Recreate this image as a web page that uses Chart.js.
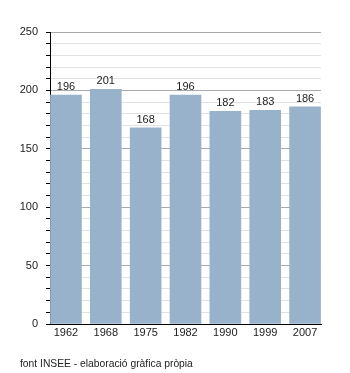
<!DOCTYPE html>
<html><head><meta charset="utf-8">
<script src="https://cdn.jsdelivr.net/npm/chart.js@4/dist/chart.umd.min.js"></script>
<style>html,body{margin:0;padding:0;background:#fff;}#w{width:350px;height:373px;}</style>
</head><body><div id="w"><canvas id="c"></canvas></div>
<script>
const categories = ["1962","1968","1975","1982","1990","1999","2007"];
const values = [196, 201, 168, 196, 182, 183, 186];
const yTickLabels = [0, 50, 100, 150, 200, 250];
const footer = "font INSEE - elaboració gràfica pròpia";

const FONT = "'Liberation Sans', Arial, sans-serif";

const valueLabels = {
  id: 'valueLabels',
  afterDatasetsDraw(chart) {
    const ctx = chart.ctx;
    const meta = chart.getDatasetMeta(0);
    ctx.save();
    ctx.font = "11px " + FONT;
    ctx.fillStyle = "#222";
    ctx.textAlign = "center";
    ctx.textBaseline = "alphabetic";
    meta.data.forEach((bar, i) => {
      ctx.fillText(String(values[i]), bar.x, bar.y - 5);
    });
    ctx.restore();
  }
};
const footerText = {
  id: 'footerText',
  afterDraw(chart) {
    const ctx = chart.ctx;
    ctx.save();
    ctx.font = "10.3px " + FONT;
    ctx.fillStyle = "#222";
    ctx.textAlign = "left";
    ctx.textBaseline = "alphabetic";
    ctx.fillText(footer, 20, 367);
    ctx.restore();
  }
};

new Chart(document.getElementById('c'), {
  type: 'bar',
  data: {
    datasets: [{
      data: values.map((v, i) => ({x: i, y: v})),
      backgroundColor: '#98b2cb',
      borderWidth: 0,
      barThickness: 31
    }]
  },
  options: {
    responsive: true,
    maintainAspectRatio: false,
    animation: false,
    layout: { padding: { top: 32, right: 29, left: 0, bottom: 0 } },
    plugins: { legend: { display: false }, tooltip: { enabled: false } },
    scales: {
      x: {
        type: 'linear',
        offset: false,
        min: -0.4, max: 6.4,
        afterBuildTicks(scale) { scale.ticks = categories.map((c, i) => ({value: i})); },
        afterFit(scale) { scale.height = 49; },
        ticks: {
          autoSkip: false,
          maxRotation: 0,
          padding: 2,
          color: '#222',
          font: { family: FONT, size: 11 },
          callback: (v) => categories[v]
        },
        grid: { display: false, drawTicks: false, offset: false },
        border: { display: true, color: '#000', width: 1 }
      },
      y: {
        min: 0, max: 250,
        afterFit(scale) { scale.width = 50; },
        afterBuildTicks(scale) {
          const t = [];
          for (let v = 0; v <= 250; v += 10) t.push({value: v});
          scale.ticks = t;
        },
        ticks: {
          autoSkip: false,
          padding: 8,
          color: '#222',
          font: { family: FONT, size: 11 },
          callback: (v) => yTickLabels.includes(v) ? String(v) : ''
        },
        grid: {
          color: (c) => (c.tick && c.tick.value % 50 === 0) ? '#aaaaaa' : '#e2e2e2',
          tickColor: '#000',
          tickLength: 4,
          lineWidth: 1
        },
        border: { display: true, color: '#000', width: 1 }
      }
    }
  },
  plugins: [valueLabels, footerText]
});
</script>
</body></html>
